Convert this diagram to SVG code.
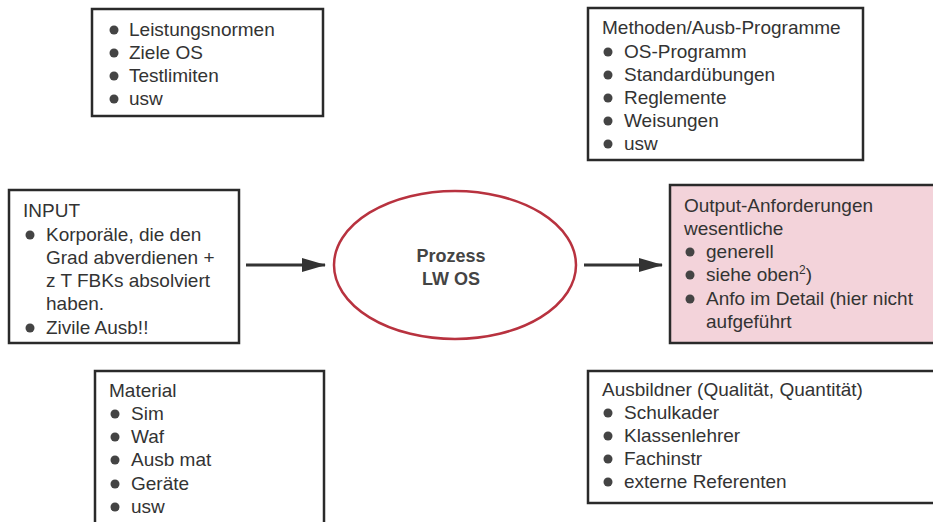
<svg xmlns="http://www.w3.org/2000/svg" width="933" height="522" viewBox="0 0 933 522">
<defs>
<style>
.box{fill:#fff;stroke:#2a2a2a;stroke-width:2.5}
.pink{fill:#f3d3da;stroke:#2a2a2a;stroke-width:2.5}
text{font-family:"Liberation Sans",Arial,sans-serif;font-size:19px;fill:#333}
.b{fill:#444}
.bold{font-weight:bold;font-size:18px;fill:#444}
.conn{stroke:#333;stroke-width:3;fill:none}
</style>
<marker id="ah" viewBox="0 0 24 14" refX="23" refY="7" markerWidth="24" markerHeight="14" orient="auto" markerUnits="userSpaceOnUse">
<path d="M0,0 L24,7 L0,14 z" fill="#333"/>
</marker>
</defs>
<rect width="933" height="522" fill="#fff"/>
<g id="normen">
<rect class="box" x="92" y="9" width="231" height="107"/>
<circle class="b" cx="114" cy="30" r="4.5"/><text x="129" y="36">Leistungsnormen</text>
<circle class="b" cx="114" cy="53" r="4.5"/><text x="129" y="59">Ziele OS</text>
<circle class="b" cx="114" cy="76" r="4.5"/><text x="129" y="82">Testlimiten</text>
<circle class="b" cx="114" cy="99" r="4.5"/><text x="129" y="105">usw</text>
</g>
<g id="methoden">
<rect class="box" x="588" y="8" width="275" height="152"/>
<text x="602" y="34">Methoden/Ausb-Programme</text>
<circle class="b" cx="608" cy="52" r="4.5"/><text x="624" y="58">OS-Programm</text>
<circle class="b" cx="608" cy="75" r="4.5"/><text x="624" y="81">Standardübungen</text>
<circle class="b" cx="608" cy="98" r="4.5"/><text x="624" y="104">Reglemente</text>
<circle class="b" cx="608" cy="121" r="4.5"/><text x="624" y="127">Weisungen</text>
<circle class="b" cx="608" cy="144" r="4.5"/><text x="624" y="150">usw</text>
</g>
<g id="input">
<rect class="box" x="9" y="190" width="230" height="153"/>
<text x="23" y="217">INPUT</text>
<circle class="b" cx="30" cy="235" r="4.5"/><text x="46" y="241">Korporäle, die den</text>
<text x="46" y="264">Grad abverdienen +</text>
<text x="46" y="287">z T FBKs absolviert</text>
<text x="46" y="310">haben.</text>
<circle class="b" cx="30" cy="328" r="4.5"/><text x="46" y="334">Zivile Ausb!!</text>
</g>
<g id="prozess">
<ellipse cx="455" cy="265" rx="121" ry="74" fill="#fff" stroke="#b8323f" stroke-width="2.5"/>
<text class="bold" x="451" y="262" text-anchor="middle">Prozess</text>
<text class="bold" x="451" y="285" text-anchor="middle">LW OS</text>
</g>
<g id="output">
<rect class="pink" x="670" y="185" width="270" height="158"/>
<text x="684" y="212">Output-Anforderungen</text>
<text x="684" y="235">wesentliche</text>
<circle class="b" cx="690" cy="252" r="4.5"/><text x="706" y="258">generell</text>
<circle class="b" cx="690" cy="275" r="4.5"/><text x="706" y="281">siehe oben<tspan font-size="12" dy="-7">2</tspan><tspan dy="7">)</tspan></text>
<circle class="b" cx="690" cy="299" r="4.5"/><text x="706" y="305">Anfo im Detail (hier nicht</text>
<text x="706" y="328">aufgeführt</text>
</g>
<g id="material">
<rect class="box" x="95" y="371" width="229" height="160"/>
<text x="109" y="397">Material</text>
<circle class="b" cx="115" cy="414" r="4.5"/><text x="131" y="420">Sim</text>
<circle class="b" cx="115" cy="437" r="4.5"/><text x="131" y="443">Waf</text>
<circle class="b" cx="115" cy="460" r="4.5"/><text x="131" y="466">Ausb mat</text>
<circle class="b" cx="115" cy="484" r="4.5"/><text x="131" y="490">Geräte</text>
<circle class="b" cx="115" cy="507" r="4.5"/><text x="131" y="513">usw</text>
</g>
<g id="ausbildner">
<rect class="box" x="588" y="371" width="350" height="132"/>
<text x="602" y="396">Ausbildner (Qualität, Quantität)</text>
<circle class="b" cx="608" cy="413" r="4.5"/><text x="624" y="419">Schulkader</text>
<circle class="b" cx="608" cy="436" r="4.5"/><text x="624" y="442">Klassenlehrer</text>
<circle class="b" cx="608" cy="459" r="4.5"/><text x="624" y="465">Fachinstr</text>
<circle class="b" cx="608" cy="482" r="4.5"/><text x="624" y="488">externe Referenten</text>
</g>
<g id="connectors">
<line class="conn" x1="246" y1="265" x2="325" y2="265" marker-end="url(#ah)"/>
<line class="conn" x1="584" y1="265" x2="662" y2="265" marker-end="url(#ah)"/>
</g>
</svg>
